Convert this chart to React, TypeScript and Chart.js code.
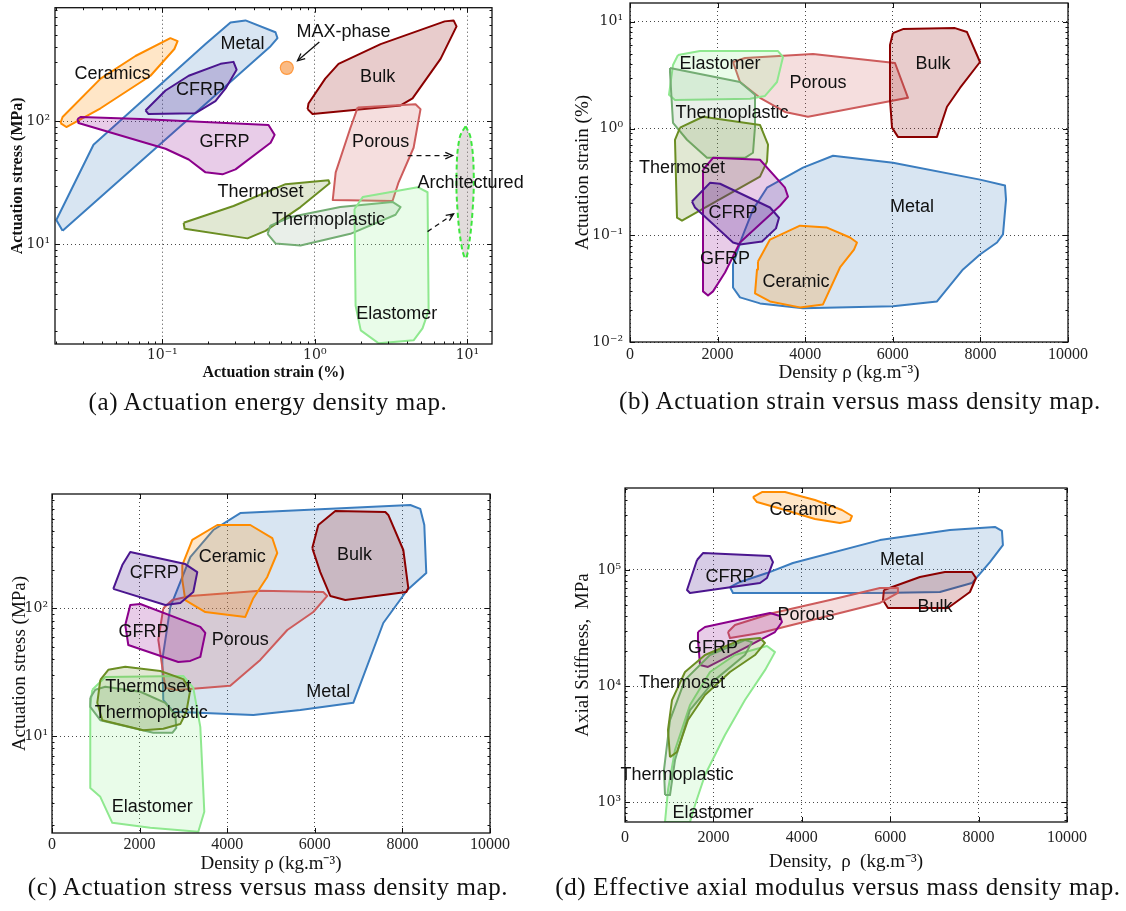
import React, { useEffect, useRef } from 'react';
import { Chart, registerables } from 'chart.js';

Chart.register(...registerables);

type Pt = [number, number];

// ================= (a) Actuation energy density map (strain % vs stress MPa) =================
const A_X_TICKS = [0.1, 1, 10];
const A_X_TICK_LABELS = ['10⁻¹', '10⁰', '10¹'];
const A_Y_TICKS = [10, 100];
const A_Y_TICK_LABELS = ['10¹', '10²'];

const A_METAL: Pt[] = [[0.0222, 12.9], [0.0202, 15.8], [0.0354, 64.3], [0.192, 421], [0.28, 631], [0.351, 655], [0.552, 525], [0.569, 470], [0.513, 405]];
const A_CERAMICS: Pt[] = [[0.0215, 96.4], [0.0235, 89.5], [0.0394, 127], [0.0837, 233], [0.12, 384], [0.126, 445], [0.113, 470], [0.0667, 337], [0.0394, 221], [0.0222, 108]];
const A_CFRP: Pt[] = [[0.0776, 122], [0.0813, 114], [0.165, 116], [0.223, 145], [0.26, 184], [0.307, 261], [0.293, 302], [0.241, 291], [0.149, 233], [0.105, 177]];
const A_GFRP: Pt[] = [[0.0278, 104], [0.0282, 96.4], [0.105, 59.7], [0.149, 48.8], [0.192, 38.4], [0.248, 37], [0.302, 40.6], [0.513, 66.7], [0.545, 77.3], [0.497, 92.9], [0.072, 104], [0.0291, 108]];
const A_BULK: Pt[] = [[0.896, 125], [0.966, 114], [3.65, 134], [4.37, 153], [6.67, 319], [8.49, 586], [8.12, 655], [7.1, 643], [2.7, 421], [1.43, 291], [1.17, 221], [0.909, 139]];
const A_POROUS: Pt[] = [[1.91, 129], [4.57, 137], [4.93, 125], [4.44, 60.8], [3.54, 31.9], [3.23, 22.5], [1.31, 22.9], [1.37, 38.4], [1.71, 87.9]];
const A_THERMOSET: Pt[] = [[0.138, 15], [0.14, 13.4], [0.362, 11.2], [0.475, 12.9], [0.805, 20.1], [1.25, 31.3], [1.23, 33.1], [0.643, 30.8], [0.293, 20.5]];
const A_THERMOPLASTIC: Pt[] = [[0.49, 12.2], [0.552, 10.2], [0.805, 9.82], [1.71, 12.2], [3.38, 17.4], [3.65, 20.1], [3.23, 22.1], [1.47, 20.1], [0.693, 16.7], [0.512, 14.2]];
const A_ELASTOMER: Pt[] = [[1.82, 19.4], [2.06, 24.2], [4.72, 29.1], [5.48, 26.5], [5.57, 2.91], [5.08, 2.09], [4.44, 1.67], [2.62, 1.58], [2.0, 2.01], [1.85, 3.19]];
const A_ARCHITECTURED: Pt[] = [[9.73, 91.2], [10.5, 73.1], [11, 38.4], [10.8, 18.4], [10.2, 9.64], [9.73, 7.73], [9.17, 9.64], [8.63, 18.4], [8.49, 38.4], [8.89, 73.1]];
const A_MAX_PHASE: Pt[] = [[0.655, 270]];
const A_LABELS = ['Metal', 'Ceramics', 'CFRP', 'GFRP', 'MAX-phase', 'Bulk', 'Porous', 'Architectured', 'Thermoset', 'Thermoplastic', 'Elastomer'];
const A_LABEL_POS: Pt[] = [[0.336, 421], [0.0472, 242], [0.178, 177], [0.256, 67.9], [1.54, 525], [2.58, 229], [2.7, 67.9], [10.5, 31.3], [0.441, 26.5], [1.23, 15.8], [3.44, 2.75]];
const A_ARROW_FROM: Pt[] = [[1.07, 437], [4.05, 52.5], [5.48, 12.7]];
const A_ARROW_TO: Pt[] = [[0.77, 308], [8.0, 52.5], [8.12, 17.7]];
const A_ARROW_DASHED = [false, true, true];

// ================= (b) Actuation strain vs density =================
const DENSITY_TICKS = [0, 2000, 4000, 6000, 8000, 10000];
const DENSITY_TICK_LABELS = ['0', '2000', '4000', '6000', '8000', '10000'];
const B_Y_TICKS = [0.01, 0.1, 1, 10];
const B_Y_TICK_LABELS = ['10⁻²', '10⁻¹', '10⁰', '10¹'];

const B_METAL: Pt[] = [[2808, 0.174], [3128, 0.279], [3950, 0.43], [4635, 0.556], [6004, 0.478], [7991, 0.332], [8562, 0.292], [8585, 0.216], [8516, 0.102], [8379, 0.0855], [7991, 0.0661], [7603, 0.0479], [7009, 0.024], [6004, 0.0216], [3950, 0.0207], [2968, 0.023], [2511, 0.0262], [2352, 0.0324], [2352, 0.0532], [2557, 0.0953]];
const B_CERAMIC: Pt[] = [[2922, 0.0568], [3196, 0.0912], [3881, 0.123], [4498, 0.118], [5023, 0.0953], [5182, 0.0855], [5114, 0.0735], [4794, 0.0499], [4406, 0.0225], [3881, 0.0211], [3196, 0.024], [2854, 0.0285], [2900, 0.0479]];
const B_POROUS: Pt[] = [[2352, 4.2], [2625, 4.58], [4178, 4.99], [6050, 4.11], [6347, 1.94], [4064, 1.29], [3539, 1.43], [2968, 1.94], [2511, 2.73]];
const B_BULK: Pt[] = [[6004, 7.84], [6233, 8.55], [7420, 8.73], [7694, 8.02], [7991, 4.2], [7534, 2.4], [7237, 1.6], [7009, 0.835], [6118, 0.835], [5982, 1.02], [5936, 1.85], [5936, 6.06]];
const B_ELASTOMER: Pt[] = [[1096, 4.89], [1598, 5.32], [3379, 5.32], [3493, 4.68], [3356, 2.73], [3082, 2.02], [2740, 1.9], [1027, 1.85], [890, 2.07], [982, 3.94]];
const B_THERMOPLASTIC: Pt[] = [[913, 3.69], [2511, 2.73], [2854, 2.07], [2854, 1.04], [2808, 0.593], [2625, 0.532], [1758, 0.532], [1301, 0.785], [982, 1.13], [913, 3.39]];
const B_THERMOSET: Pt[] = [[1142, 1.02], [1667, 1.29], [2968, 1.08], [3151, 0.705], [3128, 0.489], [2968, 0.354], [1187, 0.137], [1073, 0.146], [1027, 0.784]];
const B_GFRP: Pt[] = [[1667, 0.411], [1895, 0.532], [2968, 0.51], [3539, 0.279], [3607, 0.23], [3425, 0.189], [2511, 0.0855], [2169, 0.0448], [1895, 0.0298], [1781, 0.0273], [1667, 0.0298], [1667, 0.332]];
const B_CFRP: Pt[] = [[1415, 0.207], [1826, 0.31], [2055, 0.304], [3196, 0.182], [3402, 0.146], [3333, 0.116], [3014, 0.0874], [2511, 0.0818], [2352, 0.0855], [1484, 0.182]];
const B_LABELS = ['Elastomer', 'Porous', 'Bulk', 'Thermoplastic', 'Thermoset', 'Metal', 'CFRP', 'GFRP', 'Ceramic'];
const B_LABEL_POS: Pt[] = [[2055, 4.03], [4292, 2.68], [6918, 4.03], [2329, 1.4], [1187, 0.43], [6438, 0.182], [2352, 0.163], [2169, 0.0593], [3790, 0.0361]];

// ================= (c) Actuation stress vs density =================
const C_Y_TICKS = [10, 100];
const C_Y_TICK_LABELS = ['10¹', '10²'];

const C_METAL: Pt[] = [[2541, 19.1], [2518, 39.4], [2701, 102], [3157, 252], [3682, 410], [4299, 557], [8180, 644], [8408, 600], [8500, 449], [8545, 189], [8112, 139], [7564, 76.7], [6879, 18.2], [5669, 16.0], [4596, 14.6], [2769, 15.5]];
const C_POROUS: Pt[] = [[2541, 100], [2747, 116], [3157, 125], [4755, 137], [6193, 134], [6285, 125], [5966, 93.5], [5372, 67.6], [4755, 39.4], [4070, 24.7], [2860, 22.9], [2587, 23.8], [2427, 56.5]];
const C_BULK: Pt[] = [[5943, 296], [6080, 449], [6468, 577], [7610, 567], [7678, 538], [8021, 286], [8135, 144], [8089, 134], [6696, 116], [6353, 125], [6125, 192]];
const C_CERAMIC: Pt[] = [[2975, 218], [3203, 343], [3774, 449], [4527, 449], [5029, 355], [5143, 271], [4915, 176], [4596, 120], [4413, 85.5], [3500, 93.5], [3043, 116], [2975, 167]];
const C_CFRP: Pt[] = [[1399, 142], [1605, 218], [1787, 276], [3043, 222], [3317, 192], [3226, 134], [2929, 110], [2587, 106]];
const C_GFRP: Pt[] = [[1673, 74.0], [1787, 106], [2016, 108], [3386, 71.5], [3500, 64.1], [3386, 41.6], [3157, 38.7], [2883, 38.0], [1742, 51.6]];
const C_ELASTOMER: Pt[] = [[920, 23.0], [1217, 29.0], [2998, 29.5], [3226, 23.8], [3386, 11.8], [3454, 3.79], [3477, 2.55], [3340, 1.78], [2244, 1.91], [1377, 2.09], [1103, 3.34], [874, 3.92], [874, 17.5]];
const C_THERMOPLASTIC: Pt[] = [[874, 19.9], [989, 23.0], [1217, 24.3], [2016, 22.2], [2587, 18.2], [2815, 14.6], [2838, 11.6], [2747, 10.6], [2313, 10.6], [1103, 13.3], [874, 16.9]];
const C_THERMOSET: Pt[] = [[1103, 27.5], [1285, 33.0], [1673, 34.8], [2472, 32.3], [2998, 27.9], [3157, 22.9], [3066, 15.4], [2929, 12.4], [2541, 11.4], [2084, 11.1], [1148, 13.3], [1034, 18.2]];
const C_LABELS = ['Bulk', 'Ceramic', 'CFRP', 'GFRP', 'Porous', 'Metal', 'Thermoset', 'Thermoplastic', 'Elastomer'];
const C_LABEL_POS: Pt[] = [[6904, 261], [4116, 252], [2336, 189], [2087, 65.2], [4299, 56.5], [6308, 22.2], [2199, 24.3], [2267, 15.2], [2290, 2.79]];

// ================= (d) Effective axial modulus vs density =================
const D_Y_TICKS = [1000, 10000, 100000];
const D_Y_TICK_LABELS = ['10³', '10⁴', '10⁵'];

const D_METAL: Pt[] = [[2375, 71300], [2601, 78900], [3212, 94100], [3800, 115000], [5768, 181000], [7352, 221000], [8369, 235000], [8528, 217000], [8550, 164000], [8256, 117000], [7849, 77200], [7125, 64600], [5768, 63400], [2443, 63400]];
const D_BULK: Pt[] = [[5859, 67300], [6673, 87100], [7238, 96100], [7849, 96100], [7940, 85300], [7804, 64600], [7306, 47000], [5949, 47000], [5836, 55100]];
const D_POROUS: Pt[] = [[2330, 29200], [2488, 33600], [3348, 42600], [4637, 55100], [5768, 70000], [6175, 70000], [6175, 63400], [5768, 52000], [4411, 38500], [3054, 28600], [2375, 25900]];
const D_CFRP: Pt[] = [[1629, 122000], [1764, 140000], [3280, 132000], [3348, 117000], [3212, 85300], [3054, 77200], [1470, 63400], [1403, 67300]];
const D_GFRP: Pt[] = [[1651, 29200], [1810, 32300], [3280, 42600], [3506, 40100], [3551, 35600], [3393, 29200], [2714, 21300], [1877, 14600], [1697, 15200], [1651, 24900]];
const D_CERAMIC: Pt[] = [[2895, 425000], [3099, 470000], [3619, 470000], [4298, 401000], [4909, 329000], [5135, 292000], [5090, 265000], [4863, 254000], [4298, 275000], [3619, 329000], [2986, 385000]];
const D_ELASTOMER: Pt[] = [[905, 673], [973, 1270], [1131, 2810], [1470, 6850], [1923, 13200], [2488, 18500], [3212, 22100], [3393, 19600], [3167, 13700], [2714, 7570], [2262, 3780], [1810, 1710], [1584, 942], [1470, 673]];
const D_THERMOPLASTIC: Pt[] = [[905, 1150], [882, 1890], [1018, 5090], [1357, 11300], [1923, 18500], [2714, 24900], [2873, 23900], [2714, 18500], [2036, 11300], [1470, 6210], [1131, 2300], [1018, 1150]];
const D_THERMOSET: Pt[] = [[1018, 2440], [973, 4180], [1063, 7570], [1357, 13200], [1810, 18500], [2601, 24900], [3054, 25900], [3167, 23500], [2941, 18500], [2375, 13200], [1810, 8360], [1425, 5090], [1176, 2700]];
const D_LABELS = ['Ceramic', 'CFRP', 'Metal', 'Porous', 'Bulk', 'GFRP', 'Thermoset', 'Thermoplastic', 'Elastomer'];
const D_LABEL_POS: Pt[] = [[4026, 329000], [2375, 87100], [6265, 122000], [4094, 40900], [7012, 48000], [1990, 21300], [1289, 10600], [1176, 1710], [1990, 804]];

const CAPTIONS = [
  '(a) Actuation energy density map.',
  '(b) Actuation strain versus mass density map.',
  '(c) Actuation stress versus mass density map.',
  '(d) Effective axial modulus versus mass density map.',
];

// ================= styles =================
const SERIF = '"Liberation Serif", "Times New Roman", serif';
const LOG_TICK_SERIF = '"DejaVu Serif", "Liberation Serif", serif';
const SANS = '"Liberation Sans", Arial, Helvetica, sans-serif';

const STYLE: Record<string, { edge: string; fill: string; dash?: number[]; tension?: number }> = {
  Metal: { edge: '#3b7dbf', fill: 'rgba(59,125,191,0.2)' },
  Ceramic: { edge: '#ff8c00', fill: 'rgba(255,140,0,0.22)' },
  CFRP: { edge: '#4b168f', fill: 'rgba(75,22,143,0.22)' },
  GFRP: { edge: '#8b008b', fill: 'rgba(139,0,139,0.2)' },
  Bulk: { edge: '#8b0000', fill: 'rgba(139,0,0,0.2)' },
  Porous: { edge: '#cd5c5c', fill: 'rgba(205,92,92,0.2)' },
  Thermoset: { edge: '#6b8e23', fill: 'rgba(107,142,35,0.2)' },
  Thermoplastic: { edge: '#74ad74', fill: 'rgba(110,150,110,0.15)' },
  Elastomer: { edge: '#8fe88f', fill: 'rgba(144,238,144,0.2)' },
  Architectured: { edge: '#3de63d', fill: 'rgba(165,145,145,0.32)', dash: [5, 3], tension: 0.4 },
};

interface Panel {
  left: number; top: number; width: number; height: number;
  padTop: number; padRight: number; yAxisW: number; xAxisH: number;
  xType: string; xMin: number; xMax: number; xTicks: number[]; xTickLabels: string[];
  yMin: number; yMax: number; yTicks: number[]; yTickLabels: string[];
  xTitle: string; yTitle: string; titleSize: number; titleWeight: string;
  xTitlePad: number; yTitlePad: number; xTickPad: number; yTickPad: number;
  regions: [string, Pt[]][];
  labels: string[]; labelPos: Pt[];
  arrowFrom?: Pt[]; arrowTo?: Pt[]; arrowDashed?: boolean[];
  markers?: Pt[];
}

const PANELS: Panel[] = [
  {
    left: 0, top: 0, width: 540, height: 392, padTop: 3, padRight: 48, yAxisW: 55, xAxisH: 48,
    xType: 'logarithmic', xMin: 0.0198, xMax: 14.5, xTicks: A_X_TICKS, xTickLabels: A_X_TICK_LABELS,
    yMin: 1.56, yMax: 830, yTicks: A_Y_TICKS, yTickLabels: A_Y_TICK_LABELS,
    xTitle: 'Actuation strain (%)', yTitle: 'Actuation stress (MPa)', titleSize: 16, titleWeight: 'bold',
    xTitlePad: 10, yTitlePad: 8.4, xTickPad: 3, yTickPad: 5,
    regions: [['Metal', A_METAL], ['Ceramic', A_CERAMICS], ['CFRP', A_CFRP], ['GFRP', A_GFRP], ['Bulk', A_BULK], ['Porous', A_POROUS], ['Thermoset', A_THERMOSET], ['Thermoplastic', A_THERMOPLASTIC], ['Elastomer', A_ELASTOMER], ['Architectured', A_ARCHITECTURED]],
    labels: A_LABELS, labelPos: A_LABEL_POS,
    arrowFrom: A_ARROW_FROM, arrowTo: A_ARROW_TO, arrowDashed: A_ARROW_DASHED,
    markers: A_MAX_PHASE,
  },
  {
    left: 560, top: 0, width: 566, height: 392, padTop: 3, padRight: 58, yAxisW: 70, xAxisH: 50,
    xType: 'linear', xMin: 0, xMax: 10000, xTicks: DENSITY_TICKS, xTickLabels: DENSITY_TICK_LABELS,
    yMin: 0.01, yMax: 15, yTicks: B_Y_TICKS, yTickLabels: B_Y_TICK_LABELS,
    xTitle: 'Density ρ (kg.m⁻³)', yTitle: 'Actuation strain (%)', titleSize: 19, titleWeight: 'normal',
    xTitlePad: 7.6, yTitlePad: 11.6, xTickPad: 3, yTickPad: 7,
    regions: [['Metal', B_METAL], ['Ceramic', B_CERAMIC], ['Porous', B_POROUS], ['Bulk', B_BULK], ['Elastomer', B_ELASTOMER], ['Thermoplastic', B_THERMOPLASTIC], ['Thermoset', B_THERMOSET], ['GFRP', B_GFRP], ['CFRP', B_CFRP]],
    labels: B_LABELS, labelPos: B_LABEL_POS,
  },
  {
    left: 0, top: 470, width: 540, height: 410, padTop: 24, padRight: 50, yAxisW: 52, xAxisH: 47,
    xType: 'linear', xMin: 0, xMax: 10000, xTicks: DENSITY_TICKS, xTickLabels: DENSITY_TICK_LABELS,
    yMin: 1.74, yMax: 785, yTicks: C_Y_TICKS, yTickLabels: C_Y_TICK_LABELS,
    xTitle: 'Density ρ (kg.m⁻³)', yTitle: 'Actuation stress (MPa)', titleSize: 19, titleWeight: 'normal',
    xTitlePad: 4.6, yTitlePad: 8.4, xTickPad: 2, yTickPad: 4,
    regions: [['Metal', C_METAL], ['Porous', C_POROUS], ['Bulk', C_BULK], ['Ceramic', C_CERAMIC], ['CFRP', C_CFRP], ['GFRP', C_GFRP], ['Elastomer', C_ELASTOMER], ['Thermoplastic', C_THERMOPLASTIC], ['Thermoset', C_THERMOSET]],
    labels: C_LABELS, labelPos: C_LABEL_POS,
  },
  {
    left: 560, top: 470, width: 566, height: 410, padTop: 18, padRight: 59, yAxisW: 65, xAxisH: 58,
    xType: 'linear', xMin: 0, xMax: 10000, xTicks: DENSITY_TICKS, xTickLabels: DENSITY_TICK_LABELS,
    yMin: 673, yMax: 509000, yTicks: D_Y_TICKS, yTickLabels: D_Y_TICK_LABELS,
    xTitle: 'Density,  ρ  (kg.m⁻³)', yTitle: 'Axial Stiffness,  MPa', titleSize: 19, titleWeight: 'normal',
    xTitlePad: 6.6, yTitlePad: 11.6, xTickPad: 6, yTickPad: 4,
    regions: [['Metal', D_METAL], ['Bulk', D_BULK], ['Porous', D_POROUS], ['CFRP', D_CFRP], ['GFRP', D_GFRP], ['Ceramic', D_CERAMIC], ['Elastomer', D_ELASTOMER], ['Thermoplastic', D_THERMOPLASTIC], ['Thermoset', D_THERMOSET]],
    labels: D_LABELS, labelPos: D_LABEL_POS,
  },
];

const CAPTION_POS: Pt[] = [[268, 402], [860, 401], [268, 887], [838, 887]];

function decorPlugin(p: Panel) {
  return {
    id: 'decor',
    afterDatasetsDraw(chart: any) {
      const { ctx, chartArea: a, scales } = chart;
      const xs = scales.x, ys = scales.y;
      ctx.save();
      // arrow heads
      (p.arrowFrom || []).forEach((f, i) => {
        const t = p.arrowTo![i];
        const x1 = xs.getPixelForValue(f[0]), y1 = ys.getPixelForValue(f[1]);
        const x2 = xs.getPixelForValue(t[0]), y2 = ys.getPixelForValue(t[1]);
        const ang = Math.atan2(y2 - y1, x2 - x1);
        const L = 8, w = 0.42;
        ctx.setLineDash([]);
        ctx.strokeStyle = '#111';
        ctx.lineWidth = 1.3;
        ctx.beginPath();
        ctx.moveTo(x2 - L * Math.cos(ang - w), y2 - L * Math.sin(ang - w));
        ctx.lineTo(x2, y2);
        ctx.lineTo(x2 - L * Math.cos(ang + w), y2 - L * Math.sin(ang + w));
        ctx.stroke();
      });
      // frame + inward ticks
      ctx.setLineDash([]);
      ctx.strokeStyle = '#111';
      ctx.lineWidth = 1;
      const tickList = (s: any) => {
        const out: [number, number][] = [];
        s.ticks.forEach((t: any) => out.push([t.value, 5]));
        if (s.type === 'logarithmic') {
          for (let e = Math.floor(Math.log10(s.min)); e <= Math.ceil(Math.log10(s.max)); e++) {
            for (let j = 2; j <= 9; j++) {
              const v = j * Math.pow(10, e);
              if (v > s.min && v < s.max) out.push([v, 2.5]);
            }
          }
        }
        return out;
      };
      ctx.beginPath();
      tickList(xs).forEach(([v, len]) => {
        const px = Math.round(xs.getPixelForValue(v)) + 0.5;
        if (px < a.left - 1 || px > a.right + 1) return;
        ctx.moveTo(px, a.bottom); ctx.lineTo(px, a.bottom - len);
        ctx.moveTo(px, a.top); ctx.lineTo(px, a.top + len);
      });
      tickList(ys).forEach(([v, len]) => {
        const py = Math.round(ys.getPixelForValue(v)) + 0.5;
        if (py < a.top - 1 || py > a.bottom + 1) return;
        ctx.moveTo(a.left, py); ctx.lineTo(a.left + len, py);
        ctx.moveTo(a.right, py); ctx.lineTo(a.right - len, py);
      });
      ctx.stroke();
      ctx.lineWidth = 1.3;
      ctx.strokeRect(a.left, a.top, a.right - a.left, a.bottom - a.top);
      // region labels
      ctx.font = '18px ' + SANS;
      ctx.fillStyle = '#111';
      ctx.textAlign = 'center';
      ctx.textBaseline = 'middle';
      p.labels.forEach((txt, i) => {
        const [x, y] = p.labelPos[i];
        ctx.fillText(txt, xs.getPixelForValue(x), ys.getPixelForValue(y));
      });
      ctx.restore();
    },
  };
}

function buildConfig(p: Panel): any {
  const datasets: any[] = [];
  const n = p.regions.length;
  p.regions.forEach(([name, pts], i) => {
    const st = STYLE[name];
    datasets.push({
      label: name,
      data: [...pts, pts[0]].map(([x, y]) => ({ x, y })),
      borderColor: st.edge,
      backgroundColor: st.fill,
      borderWidth: 2,
      borderDash: st.dash || [],
      borderJoinStyle: 'round',
      fill: 'shape',
      tension: st.tension || 0,
      pointRadius: 0,
      pointHoverRadius: 0,
      order: 100 + n - i,
    });
  });
  (p.arrowFrom || []).forEach((f, i) => {
    const t = p.arrowTo![i];
    datasets.push({
      label: 'arrow' + i,
      data: [f, t].map(([x, y]) => ({ x, y })),
      borderColor: '#111',
      borderWidth: 1.3,
      borderDash: p.arrowDashed![i] ? [5, 4] : [],
      fill: false,
      pointRadius: 0,
      order: 2,
    });
  });
  if (p.markers) {
    datasets.push({
      label: 'MAX-phase',
      data: p.markers.map(([x, y]) => ({ x, y })),
      showLine: false,
      pointRadius: 6.5,
      pointBackgroundColor: 'rgba(250,180,120,0.9)',
      pointBorderColor: '#ff9a40',
      pointBorderWidth: 1.2,
      order: 1,
    });
  }
  const linFont = { family: SERIF, size: 16 };
  const logFont = { family: LOG_TICK_SERIF, size: 14 };
  const titleFont = { family: SERIF, size: p.titleSize, weight: p.titleWeight };
  const zeroPad = (s: any) => { s.paddingLeft = 0; s.paddingRight = 0; s.paddingTop = 0; s.paddingBottom = 0; };
  return {
    type: 'line',
    data: { datasets },
    options: {
      animation: false,
      responsive: false,
      devicePixelRatio: 1,
      events: [],
      layout: { padding: { top: p.padTop, right: p.padRight, left: 0, bottom: 0 } },
      plugins: { legend: { display: false }, tooltip: { enabled: false } },
      scales: {
        x: {
          type: p.xType,
          min: p.xMin,
          max: p.xMax,
          bounds: 'data',
          afterBuildTicks: (s: any) => { s.ticks = p.xTicks.map((v) => ({ value: v })); },
          afterFit: (s: any) => { s.height = p.xAxisH; zeroPad(s); },
          ticks: {
            callback: (_v: any, i: number) => p.xTickLabels[i] ?? '',
            font: p.xType === 'logarithmic' ? logFont : linFont, color: '#222', padding: p.xTickPad,
            autoSkip: false, maxRotation: 0, minRotation: 0,
          },
          grid: { color: '#333', lineWidth: 0.9, drawTicks: false },
          border: { display: false, dash: [1, 3] },
          title: { display: true, text: p.xTitle, font: titleFont, color: '#111', padding: { top: 0, bottom: p.xTitlePad } },
        },
        y: {
          type: 'logarithmic',
          min: p.yMin,
          max: p.yMax,
          bounds: 'data',
          afterBuildTicks: (s: any) => { s.ticks = p.yTicks.map((v) => ({ value: v })); },
          afterFit: (s: any) => { s.width = p.yAxisW; zeroPad(s); },
          ticks: {
            callback: (_v: any, i: number) => p.yTickLabels[i] ?? '',
            font: logFont, color: '#222', padding: p.yTickPad, autoSkip: false,
          },
          grid: { color: '#333', lineWidth: 0.9, drawTicks: false },
          border: { display: false, dash: [1, 3] },
          title: { display: true, text: p.yTitle, font: titleFont, color: '#111', padding: { top: p.yTitlePad, bottom: 0 } },
        },
      },
    },
    plugins: [decorPlugin(p)],
  };
}

function PanelChart({ p }: { p: Panel }) {
  const ref = useRef<HTMLCanvasElement>(null);
  useEffect(() => {
    const chart = new Chart(ref.current as HTMLCanvasElement, buildConfig(p));
    return () => chart.destroy();
  }, [p]);
  return (
    <canvas
      ref={ref}
      width={p.width}
      height={p.height}
      style={{ position: 'absolute', left: p.left, top: p.top, width: p.width, height: p.height }}
    />
  );
}

export default function App() {
  return (
    <div style={{ position: 'absolute', left: 0, top: 0, width: 1126, height: 911, background: '#fff', overflow: 'hidden' }}>
      {PANELS.map((p, i) => <PanelChart key={i} p={p} />)}
      {CAPTIONS.map((c, i) => (
        <div
          key={'c' + i}
          style={{
            position: 'absolute', left: CAPTION_POS[i][0] - 320, top: CAPTION_POS[i][1] - 15, width: 640,
            textAlign: 'center', lineHeight: '30px', fontFamily: SERIF, fontSize: 25, letterSpacing: '0.6px',
            whiteSpace: 'nowrap', color: '#111',
          }}
        >
          {c}
        </div>
      ))}
    </div>
  );
}
